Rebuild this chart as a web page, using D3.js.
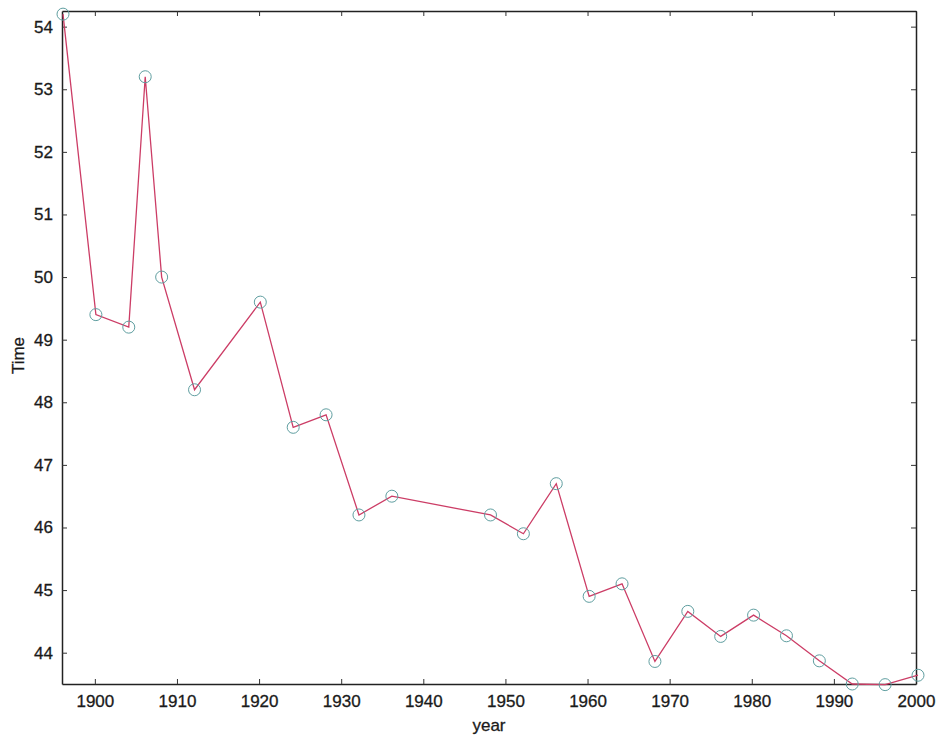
<!DOCTYPE html>
<html><head><meta charset="utf-8">
<script src="https://cdn.jsdelivr.net/npm/d3@7"></script>
<style>body{margin:0;background:#fff}svg{display:block}text{font-family:"Liberation Sans",Arial,sans-serif}</style>
</head><body><svg id="c" width="943" height="736"></svg>
<script>
const years = [1896,1900,1904,1906,1908,1912,1920,1924,1928,1932,1936,1948,1952,1956,1960,1964,1968,1972,1976,1980,1984,1988,1992,1996,2000];
const times = [54.2,49.4,49.2,53.2,50.0,48.2,49.6,47.6,47.8,46.2,46.5,46.2,45.9,46.7,44.9,45.1,43.86,44.66,44.26,44.6,44.27,43.87,43.5,43.49,43.64];
const xTicks = [1900,1910,1920,1930,1940,1950,1960,1970,1980,1990,2000];
const yTicks = [44,45,46,47,48,49,50,51,52,53,54];

const svg = d3.select("#c");
const L=62,R=916,T=11,B=684;
const x = d3.scaleLinear().domain([1896,2000]).range([L+1,R+2]);
const y = d3.scaleLinear().domain([43.5,54.25]).range([B,T]);
const xa = d3.scaleLinear().domain([1896,2000]).range([L,R]);

const tl=5;
const g = svg.append("g");
const xb = g.append("g").attr("transform",`translate(0,${B})`).call(d3.axisBottom(xa).tickValues(xTicks).tickFormat(d3.format("d")).tickSizeInner(-tl).tickSizeOuter(0).tickPadding(11));
const xt = g.append("g").attr("transform",`translate(0,${T})`).call(d3.axisTop(xa).tickValues(xTicks).tickFormat("").tickSizeInner(-tl).tickSizeOuter(0));
const yl = g.append("g").attr("transform",`translate(${L},0)`).call(d3.axisLeft(y).tickValues(yTicks).tickFormat(d3.format("d")).tickSizeInner(-tl).tickSizeOuter(0).tickPadding(9));
const yr = g.append("g").attr("transform",`translate(${R},0)`).call(d3.axisRight(y).tickValues(yTicks).tickFormat("").tickSizeInner(-tl).tickSizeOuter(0));
[xb,xt,yl,yr].forEach(a=>{a.select(".domain").attr("stroke","#222").attr("stroke-width",1.5);a.selectAll(".tick line").attr("stroke","#333");a.selectAll("text").attr("font-size",17).attr("fill","#1a1a1a").attr("stroke","#1a1a1a").attr("stroke-width",0.3).attr("font-family","Liberation Sans, Arial, sans-serif");});

const line = d3.line().x((d,i)=>x(years[i])).y(d=>y(d));
svg.append("path").datum(times).attr("d",line).attr("fill","none").attr("stroke","#cc3d66").attr("stroke-width",1.3);
svg.selectAll("circle.pt").data(times).enter().append("circle").attr("class","pt")
  .attr("cx",(d,i)=>x(years[i])).attr("cy",d=>y(d)).attr("r",6)
  .attr("fill","none").attr("stroke","#5f9ea0").attr("stroke-width",1);

svg.append("text").attr("x",(L+R)/2).attr("y",731).attr("text-anchor","middle").attr("font-size",17).attr("fill","#1a1a1a").attr("stroke","#1a1a1a").attr("stroke-width",0.3).text("year");
svg.append("text").attr("transform",`translate(24,${(T+B)/2+8}) rotate(-90)`).attr("text-anchor","middle").attr("font-size",17).attr("fill","#1a1a1a").attr("stroke","#1a1a1a").attr("stroke-width",0.3).text("Time");
</script></body></html>
